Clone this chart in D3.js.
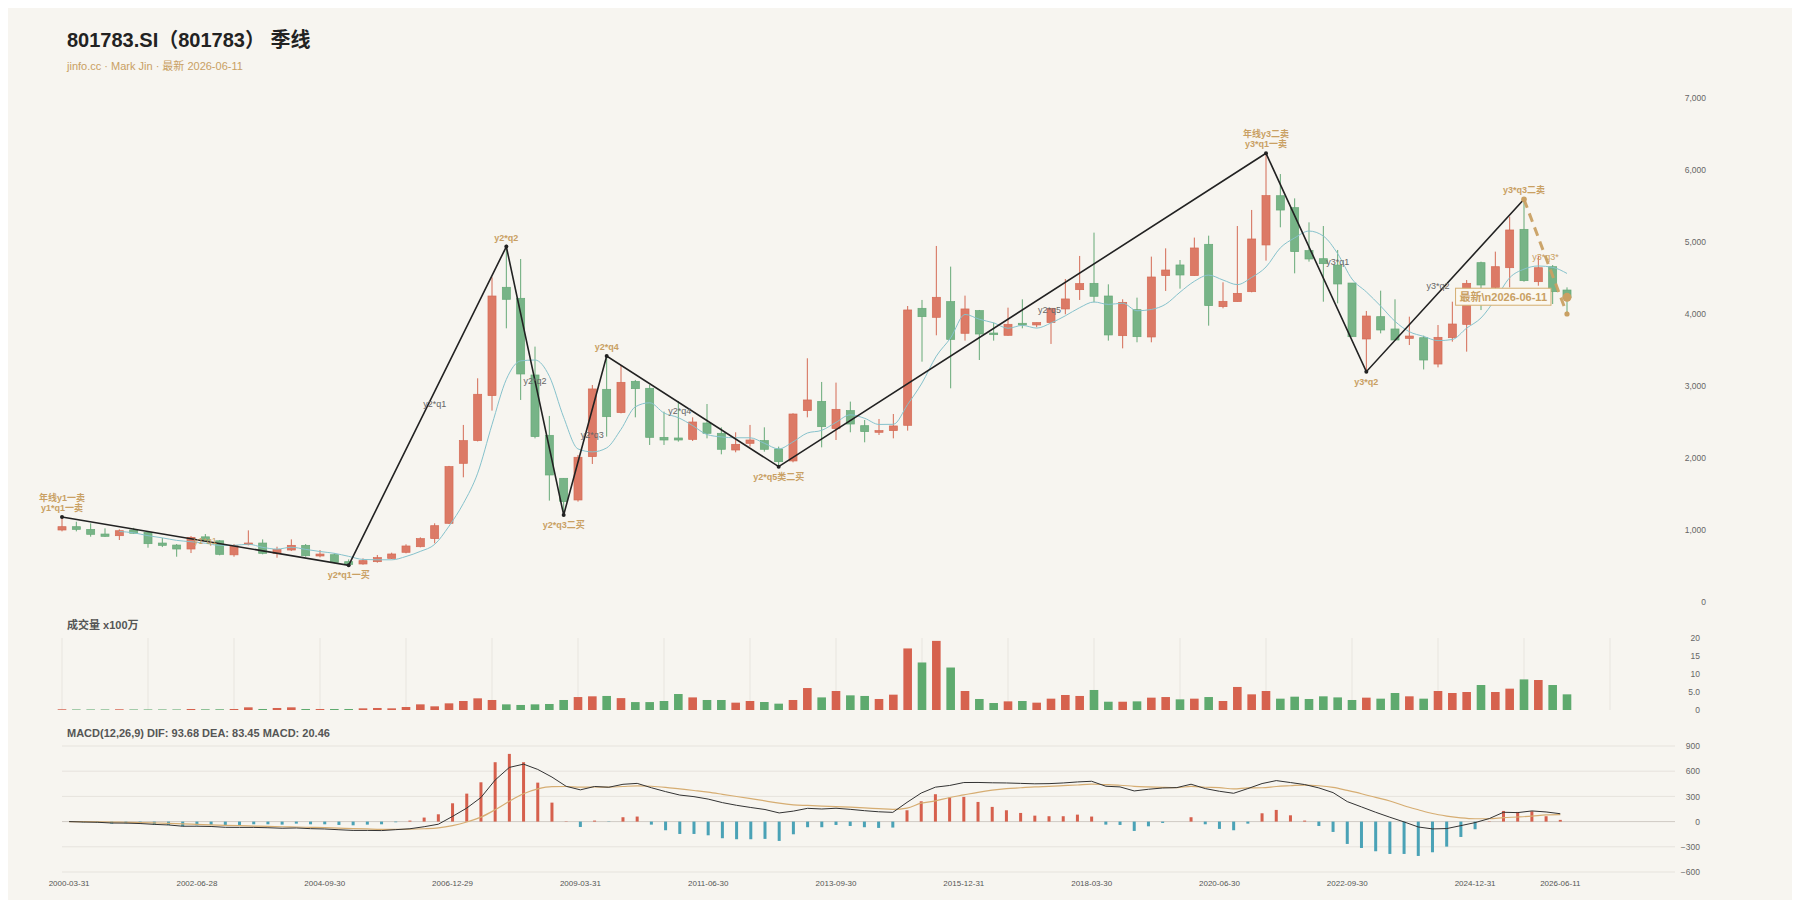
<!DOCTYPE html>
<html><head><meta charset="utf-8">
<script src="https://cdn.jsdelivr.net/npm/d3@7"></script>
<style>html,body{margin:0;padding:0;background:#fff}svg{display:block}</style>
</head><body>
<svg id="c" width="1800" height="900"></svg>
<script>
// ---------------- DATA ----------------
const dates = [
"2000-03-31","2000-06-30","2000-09-29","2000-12-29","2001-03-30","2001-06-29","2001-09-28","2001-12-31",
"2002-03-29","2002-06-28","2002-09-30","2002-12-31","2003-03-31","2003-06-30","2003-09-30","2003-12-31",
"2004-03-31","2004-06-30","2004-09-30","2004-12-31","2005-03-31","2005-06-30","2005-09-30","2005-12-30",
"2006-03-31","2006-06-30","2006-09-29","2006-12-29","2007-03-30","2007-06-29","2007-09-28","2007-12-28",
"2008-03-31","2008-06-30","2008-09-26","2008-12-31","2009-03-31","2009-06-30","2009-09-30","2009-12-31",
"2010-03-31","2010-06-30","2010-09-30","2010-12-31","2011-03-31","2011-06-30","2011-09-30","2011-12-30",
"2012-03-30","2012-06-29","2012-09-28","2012-12-31","2013-03-29","2013-06-28","2013-09-30","2013-12-31",
"2014-03-31","2014-06-30","2014-09-30","2014-12-31","2015-03-31","2015-06-30","2015-09-30","2015-12-31",
"2016-03-31","2016-06-30","2016-09-30","2016-12-30","2017-03-31","2017-06-30","2017-09-29","2017-12-29",
"2018-03-30","2018-06-29","2018-09-28","2018-12-28","2019-03-29","2019-06-28","2019-09-30","2019-12-31",
"2020-03-31","2020-06-30","2020-09-30","2020-12-31","2021-03-31","2021-06-30","2021-09-30","2021-12-31",
"2022-03-31","2022-06-30","2022-09-30","2022-12-30","2023-03-31","2023-06-30","2023-09-28","2023-12-29",
"2024-03-29","2024-06-28","2024-09-30","2024-12-31","2025-03-31","2025-06-30","2025-09-30","2025-12-31",
"2026-03-31","2026-06-11"];

const openP = [1000,1046,1009,944,921,1000,967,819,791,736, 905,850,655,796,819,676,722,787,639,657,
560,528,560,606,690,768,880,1093,1926,2241, 2866,4371,4218,3153,2315,1718,1417,2019,2954,2630,
3065,2968,2287,2278,2259,2486,2343,2111,2204,2241, 2125,1959,2658,2787,2408,2658,2449,2357,2380,2454,
4079,3954,4172,3732,4047,3736,3704,3871,3848,3880, 4070,4338,4426,4250,3699,4060,3681,4533,4681,4533,
4968,4102,4172,4310,4959,5643,5477,4880,4768,4680, 4430,3653,3963,3792,3662,3671,3305,3671,3856,4713,
4370,4643,5176,4449,4657,4333];
const highP = [1180,1115,1092,1023,1009,1030,986,889,805,916, 944,860,805,995,870,768,870,805,722,676,
592,606,653,685,801,898,1093,1890,2459,3107, 4510,4936,4764,3547,2584,1718,2042,3014,3417,3283,
3084,3014,2644,2792,2565,2750,2426,2357,2459,2426, 2158,2621,3385,3056,3047,2783,2528,2542,2611,4111,
4195,4945,4658,4255,4056,3880,4088,4204,3880,4079, 4486,4806,5130,4412,4204,4227,4797,4912,4750,5061,
5088,4440,5222,5445,6232,5944,5606,5273,5222,4889, 4430,4042,4324,4204,3963,3699,3847,4171,4472,4727,
4866,5352,5593,4810,4680,4370];
const lowP = [981,981,907,905,861,950,754,763,629,680, 840,648,629,787,662,615,708,629,620,537,
509,518,546,597,676,759,815,1085,1732,2230, 2658,3801,2806,2273,1408,1209,1394,1917,2297,2620,
2565,2181,2181,2227,2236,2273,2051,2079,2158,2088, 1880,1940,2565,2148,2250,2357,2218,2320,2273,2380,
3338,3704,2968,3630,3361,3630,3699,3801,3815,3584, 3996,4195,4162,3630,3523,3607,3607,4320,4352,4533,
3838,4079,4172,4301,4741,5204,4565,4727,4171,4148, 3685,3199,3731,3630,3569,3230,3259,3616,3477,4055,
4347,4370,4449,4393,4139,4000];
const closeP = [1046,1009,940,912,990,955,810,787,736,898, 850,662,787,819,676,731,787,643,666,551,
523,574,616,667,778,880,1060,1880,2241,2885, 4250,4204,3167,2297,1764,1394,2010,2959,2574,3051,
2963,2287,2250,2250,2500,2343,2121,2190,2250,2121, 1949,2611,2806,2435,2676,2472,2366,2380,2445,4056,
3963,4232,3648,4070,3722,3713,3857,3848,3880,4079, 4209,4422,4246,3709,4162,3685,4514,4611,4542,4917,
4116,4176,4287,5042,5644,5444,4866,4764,4699,4417, 3685,3972,3778,3639,3694,3361,3676,3861,4426,4403,
4657,5167,4463,4643,4310,4231];
// MA5 of close
const ma5 = [null,null,null,null,
979,961,921,891,856,837,816,787,787,803, 759,735,760,731,701,676,634,591,586,586,
632,703,800,1053,1368,1789,2463,3092,3349,3361, 3136,2565,2126,2085,2140,2398,2711,2767,2625,2560,
2450,2326,2293,2281,2281,2205,2126,2224,2347,2384, 2495,2600,2551,2466,2468,2744,3042,3415,3669,3994,
3927,3877,3802,3842,3804,3875,3975,4088,4167,4133, 4150,4045,4063,4136,4303,4454,4540,4472,4408,4508,
4653,4919,5057,5152,5083,4838,4486,4307,4110,3898, 3754,3689,3630,3646,3804,3945,4205,4503,4623,4667,
4648,4563];
// volume, x100万
const volume = [0.2,0.15,0.15,0.15,0.2,0.15,0.15,0.15,0.15,0.28, 0.19,0.2,0.28,0.74,0.28,0.56,0.74,0.28,0.28,0.28,
0.28,0.46,0.56,0.46,0.83,1.57,1.02,1.85,2.5,3.24, 2.78,1.57,1.4,1.57,1.67,2.78,3.6,3.8,3.9,3.3,
2.2,2.2,2.5,4.44,3.5,2.78,2.78,2.04,2.5,2.22, 1.76,2.78,6.1,3.5,5.28,4.07,3.9,3.06,4.26,17.1,
13.2,19.2,11.8,5.28,3.06,1.94,2.4,2.5,2.04,3.15, 4.17,3.9,5.56,2.3,2.3,2.4,3.43,3.6,2.96,3.15,
3.6,2.5,6.4,4.35,5.28,3.15,3.7,3.06,3.8,3.5, 2.78,3.43,3.15,4.72,3.8,3.15,5.28,4.72,5.0,6.94,
5.0,5.93,8.5,8.33,6.94,4.35];
// MACD(12,26,9)
const dif = [0,-5,-8,-17,-18,-23,-33,-40,-55,-55, -58,-68,-69,-69,-73,-79,-76,-84,-88,-97,
-105,-105,-107,-96,-85,-61,-31,62,161,287, 495,645,684,621,530,420,378,418,409,444,
455,403,357,316,297,268,226,194,168,144, 103,125,158,150,159,146,130,117,110,229,
340,410,430,465,466,462,460,455,450,452, 460,472,480,421,413,365,385,400,405,445,
393,361,337,393,453,488,465,441,401,345, 238,175,111,52,-4,-64,-87,-83,-48,-12,
36,111,107,127,115,93.68];
const dea = [0,-1,-2.5,-5.5,-8,-11,-15.5,-20.5,-27.5,-33, -38,-44,-49,-53,-57,-61.5,-64.5,-68.5,-72.5,-77.5,
-83,-87.5,-91.5,-92.5,-91,-85,-74,-47,-5,53, 141,242,331,389,417,418,410,412,411,418,
425,421,408,389,370,350,325,299,273,247, 219,200,192,184,179,172,164,154,145,161,
219,247,287,318,349,374,392,403,414,420, 428,436,445,440,433,420,413,408,405,419,
409,404,389,401,403,418,427,435,427,407, 371,332,288,245,189,141,96,66,44,34,
34,47,55,65,80,83.45];
const macdHist = [0,-8,-12,-24,-20,-24,-36,-40,-56,-44, -40,-48,-40,-32,-32,-36,-24,-32,-32,-40,
-44,-36,-32,-8,12,48,87,218,333,468, 707,806,707,464,226,4,-64,12,-4,52,
60,-36,-103,-147,-147,-163,-198,-210,-210,-206, -230,-151,-67,-67,-40,-52,-67,-75,-71,135,
242,326,286,294,234,175,135,103,71,64, 64,83,60,-36,-40,-111,-56,-16,0,52,
-32,-87,-103,-24,99,139,75,12,-52,-123, -266,-314,-353,-385,-385,-409,-365,-298,-183,-91,
4,127,115,123,64,20.46];

// zigzag (笔) vertices
const zigIdx = [0,20,31,35,38,50,84,91,102];
const zigVal = [1180,509,4936,1209,3417,1880,6232,3199,5593];
const zigText = [["年线y1一卖","y1*q1一卖"],["y2*q1一买"],["y2*q2"],["y2*q3二买"],["y2*q4"],["y2*q5类二买"],["年线y3二卖","y3*q1一卖"],["y3*q2"],["y3*q3二卖"]];
const segText = ["y1*q1","y2*q1","y2*q2","y2*q3","y2*q4","y2*q5","y3*q1","y3*q2"];
const segIdx = [10,26,33,37,43.1,68.9,89,96];
const segVal = [850,2750,3070,2320,2650,4056,4720,4390];
// projected segment
const projIdx = [102,105];
const projVal = [5593,4000];
const projText = "y3*q3*";
const latestText = "最新\\n2026-06-11";

const priceTicks = [0,1000,2000,3000,4000,5000,6000,7000];
const volTicks = [0,5,10,15,20];
const volTickLabels = ["0","5.0","10","15","20"];
const macdTicks = [-600,-300,0,300,600,900];
const xTickIdx = [0,9,18,27,36,45,54,63,72,81,90,99,105];

// ---------------- DRAW ----------------
const FONT = '"Liberation Sans", Arial, "Noto Sans CJK SC", sans-serif';
const C_UP = '#dc7a66', C_DN = '#77b487', C_UPS = '#d46a55', C_DNS = '#66a977';
const V_UP = '#d6624e', V_DN = '#5eaa6e';
const TAN = '#c9a063';
const svg = d3.select('#c').style('font-family', FONT);
svg.append('rect').attr('x',8).attr('y',8).attr('width',1784).attr('height',892).attr('fill','#f7f5f0');

const nSlots = dates.length + 3;
const idx = d3.range(dates.length);
const xP = d3.scalePoint().domain(d3.range(nSlots)).range([62,1610]);
const xPos = v => xP(0) + v * xP.step();   // fractional category position
const xB = d3.scaleBand().domain(d3.range(nSlots)).range([62,1610]);
const xM = i => xB(i) + xB.bandwidth()/2;
const yP = d3.scaleLinear().domain([0,7000]).range([602,98]);
const yV = d3.scaleLinear().domain([0,20]).range([710,638]);
const yM = d3.scaleLinear().domain([-600,900]).range([872,746]);

// title
svg.append('text').attr('x',67).attr('y',47).attr('font-size',20).attr('font-weight','bold').attr('fill','#222')
  .text('801783.SI（801783） 季线');
svg.append('text').attr('x',67).attr('y',70).attr('font-size',11).attr('fill',TAN)
  .text('jinfo.cc · Mark Jin · 最新 2026-06-11');

// ---- main panel ----
const gMain = svg.append('g');
const isUp = i => closeP[i] >= openP[i];
const bw = xP.step()*0.56;
gMain.selectAll('line.wick').data(idx).join('line')
  .attr('x1',i=>xP(i)).attr('x2',i=>xP(i))
  .attr('y1',i=>yP(highP[i])).attr('y2',i=>yP(lowP[i]))
  .attr('stroke',i=>isUp(i)?C_UPS:C_DNS).attr('stroke-width',1);
gMain.selectAll('rect.body').data(idx).join('rect')
  .attr('x',i=>xP(i)-bw/2).attr('width',bw)
  .attr('y',i=>yP(Math.max(openP[i],closeP[i])))
  .attr('height',i=>Math.max(1.2, Math.abs(yP(openP[i])-yP(closeP[i]))))
  .attr('fill',i=>isUp(i)?C_UP:C_DN).attr('stroke',i=>isUp(i)?C_UPS:C_DNS).attr('stroke-width',0.7);

// MA line
const maLine = d3.line().defined(i=>ma5[i]!=null).x(i=>xP(i)).y(i=>yP(ma5[i])).curve(d3.curveMonotoneX);
gMain.append('path').attr('d',maLine(idx)).attr('fill','none').attr('stroke','#86c2cc').attr('stroke-width',1);

// zigzag
const zz = zigIdx.map((d,k)=>[xP(d), yP(zigVal[k])]);
gMain.append('path').attr('d',d3.line()(zz)).attr('fill','none').attr('stroke','#222').attr('stroke-width',1.6);
gMain.selectAll('circle.zz').data(zz).join('circle').attr('cx',d=>d[0]).attr('cy',d=>d[1]).attr('r',2).attr('fill','#222');

// projected dashed segment
const pp = projIdx.map((d,k)=>[xP(d), yP(projVal[k])]);
gMain.append('path').attr('d',d3.line()(pp)).attr('fill','none').attr('stroke',TAN).attr('stroke-width',3)
  .attr('stroke-dasharray','9,6').attr('opacity',0.95);
gMain.append('circle').attr('cx',pp[0][0]).attr('cy',pp[0][1]).attr('r',2.8).attr('fill',TAN);
gMain.append('circle').attr('cx',pp[1][0]).attr('cy',pp[1][1]).attr('r',2.6).attr('fill',TAN);
const last = dates.length-1;
gMain.append('circle').attr('cx',xP(last)).attr('cy',yP(closeP[last])).attr('r',4.5).attr('fill',TAN);

// segment labels
segText.forEach((t,k)=>{
  svg.append('text').attr('x',xPos(segIdx[k])).attr('y',yP(segVal[k])).attr('dy','0.35em')
    .attr('text-anchor','middle').attr('font-size',9).attr('fill', k===0?TAN:'#666').text(t);
});
svg.append('text').attr('x',(pp[0][0]+pp[1][0])/2).attr('y',(pp[0][1]+pp[1][1])/2).attr('dy','0.35em')
  .attr('text-anchor','middle').attr('font-size',9).attr('fill',TAN).text(projText);

// vertex labels (peaks above, troughs below)
zigText.forEach((lines,k)=>{
  const x = zz[k][0], y = zz[k][1];
  const nb = k===0 ? zigVal[1] : zigVal[k-1];
  const isPeak = zigVal[k] > nb;
  lines.forEach((ln,j)=>{
    const yy = isPeak ? y - 6 - (lines.length-1-j)*10.5 : y + 13 + j*10.5;
    svg.append('text').attr('x',x).attr('y',yy).attr('text-anchor','middle').attr('font-size',9)
      .attr('font-weight','bold').attr('fill',TAN).text(ln);
  });
});

// latest label box
const lx = xP(last) - 20, ly = yP(closeP[last]);
const gL = svg.append('g');
const lt = gL.append('text').attr('x',lx).attr('y',ly).attr('dy','0.35em').attr('text-anchor','end')
  .attr('font-size',11).attr('font-weight','bold').attr('fill',TAN).text(latestText);
const bb = lt.node().getBBox();
gL.insert('rect','text').attr('x',bb.x-4).attr('y',bb.y-2).attr('width',bb.width+8).attr('height',bb.height+4)
  .attr('fill','#fbf8f0').attr('stroke','#d4ad70').attr('stroke-width',1);

// main y axis
const axP = svg.append('g').attr('transform','translate(1706,0)')
  .call(d3.axisLeft(yP).tickValues(priceTicks).tickFormat(d3.format(',')).tickSize(0).tickPadding(0));
axP.select('.domain').remove();
axP.selectAll('text').attr('font-size',8.5).attr('fill','#666').attr('font-family',FONT);

// ---- volume panel ----
svg.append('text').attr('x',67).attr('y',629).attr('font-size',11).attr('font-weight','bold').attr('fill','#555').text('成交量 x100万');
const gV = svg.append('g');
gV.selectAll('line.vg').data(d3.range(0,nSlots,6)).join('line')
  .attr('x1',i=>xP(i)).attr('x2',i=>xP(i)).attr('y1',yV(20)).attr('y2',yV(0))
  .attr('stroke','#e8e5df').attr('stroke-width',1);
const vw = xP.step()*0.6;
gV.selectAll('rect.v').data(idx).join('rect')
  .attr('x',i=>xP(i)-vw/2).attr('width',vw)
  .attr('y',i=>yV(volume[i])).attr('height',i=>yV(0)-yV(volume[i]))
  .attr('fill',i=>isUp(i)?V_UP:V_DN);
const axV = svg.append('g').attr('transform','translate(1700,0)')
  .call(d3.axisLeft(yV).tickValues(volTicks).tickFormat((d,k)=>volTickLabels[k]).tickSize(0).tickPadding(0));
axV.select('.domain').remove();
axV.selectAll('text').attr('font-size',8.5).attr('fill','#666').attr('font-family',FONT);

// ---- MACD panel ----
svg.append('text').attr('x',67).attr('y',737).attr('font-size',11).attr('font-weight','bold').attr('fill','#555')
  .text('MACD(12,26,9) DIF: 93.68 DEA: 83.45 MACD: 20.46');
const gM = svg.append('g');
gM.selectAll('line.mg').data(macdTicks).join('line')
  .attr('x1',62).attr('x2',1675).attr('y1',d=>yM(d)).attr('y2',d=>yM(d))
  .attr('stroke',d=>d===0?'#cfcbc4':'#e6e3dd').attr('stroke-width',1);
const mw = 3;
gM.selectAll('rect.h').data(idx).join('rect')
  .attr('x',i=>xM(i)-mw/2).attr('width',mw)
  .attr('y',i=>Math.min(yM(0),yM(macdHist[i])))
  .attr('height',i=>Math.abs(yM(macdHist[i])-yM(0)))
  .attr('fill',i=>macdHist[i]>=0?'#d6604d':'#4aa2b6');
gM.append('path').attr('d',d3.line().x(i=>xM(i)).y(i=>yM(dea[i])).curve(d3.curveMonotoneX)(idx))
  .attr('fill','none').attr('stroke','#d6ad72').attr('stroke-width',1.2);
gM.append('path').attr('d',d3.line().x(i=>xM(i)).y(i=>yM(dif[i]))(idx))
  .attr('fill','none').attr('stroke','#333').attr('stroke-width',1);
const axM = svg.append('g').attr('transform','translate(1700,0)')
  .call(d3.axisLeft(yM).tickValues(macdTicks).tickFormat(d3.format('d')).tickSize(0).tickPadding(0));
axM.select('.domain').remove();
axM.selectAll('text').attr('font-size',8.5).attr('fill','#666').attr('font-family',FONT);

// x axis labels
const axX = svg.append('g').attr('transform','translate(0,880)')
  .call(d3.axisBottom(xB).tickValues(xTickIdx).tickFormat(i=>dates[i]).tickSize(0).tickPadding(0));
axX.select('.domain').remove();
axX.selectAll('text').attr('font-size',8).attr('fill','#555').attr('font-family',FONT);
</script>
</body></html>
